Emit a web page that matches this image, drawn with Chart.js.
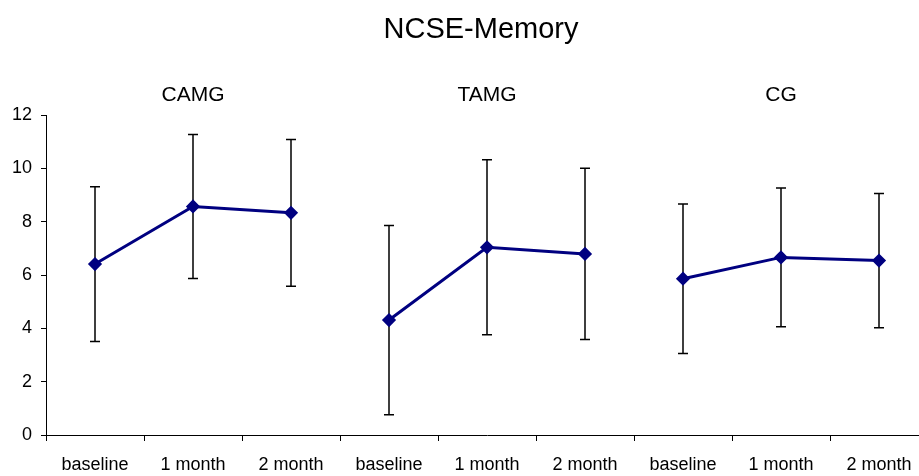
<!DOCTYPE html>
<html>
<head>
<meta charset="utf-8">
<script src="https://cdn.jsdelivr.net/npm/chart.js@4"></script>
<style>
  html, body { margin: 0; padding: 0; background: #fff; overflow: hidden; }
  /* the plot area runs ~9px past the right edge of the window, as in the original */
  #wrap { width: 928px; height: 476px; position: relative; }
</style>
</head>
<body>
<div id="wrap"><canvas id="chart"></canvas></div>
<script>
// Chart data
const chartTitle = 'NCSE-Memory';
const groups = ['CAMG', 'TAMG', 'CG'];
const timepoints = ['baseline', '1 month', '2 month'];
const camgMean = [6.41, 8.57, 8.33];
const camgSd = [2.9, 2.7, 2.75];
const tamgMean = [4.31, 7.04, 6.79];
const tamgSd = [3.55, 3.28, 3.21];
const cgMean = [5.86, 6.66, 6.54];
const cgSd = [2.8, 2.6, 2.52];
const yTicks = [0, 2, 4, 6, 8, 10, 12];

const FONT = "'Liberation Sans', Arial, sans-serif";
const NAVY = '#000080';

// 9 categories: each group repeats the three timepoints
const labels = groups.flatMap(() => timepoints);

// place a group's values in its own slot, nulls elsewhere so lines don't join
function slot(groupIndex, values) {
  const out = new Array(labels.length).fill(null);
  values.forEach((v, i) => { out[groupIndex * 3 + i] = v; });
  return out;
}

const means = [camgMean, tamgMean, cgMean];
const sds = [camgSd, tamgSd, cgSd];

const datasets = groups.map((g, gi) => ({
  label: g,
  data: slot(gi, means[gi]),
  sd: slot(gi, sds[gi]),
  borderColor: NAVY,
  backgroundColor: NAVY,
  borderWidth: 3,
  pointStyle: 'rectRot',
  pointRadius: 5,
  pointHoverRadius: 5,
  spanGaps: false,
  tension: 0
}));

// Error bars (mean ± sd), drawn under the markers
const errorBars = {
  id: 'errorBars',
  beforeDatasetsDraw(chart) {
    const { ctx, scales: { x, y } } = chart;
    ctx.save();
    ctx.strokeStyle = '#000';
    ctx.lineWidth = 1.5;
    chart.data.datasets.forEach(ds => {
      ds.data.forEach((m, i) => {
        if (m === null) return;
        const px = x.getPixelForValue(i);
        const top = y.getPixelForValue(m + ds.sd[i]);
        const bot = y.getPixelForValue(m - ds.sd[i]);
        ctx.beginPath();
        ctx.moveTo(px, top); ctx.lineTo(px, bot);
        ctx.moveTo(px - 5, top); ctx.lineTo(px + 5, top);
        ctx.moveTo(px - 5, bot); ctx.lineTo(px + 5, bot);
        ctx.stroke();
      });
    });
    ctx.restore();
  }
};

// Main title and group names above each block
const headings = {
  id: 'headings',
  afterDraw(chart) {
    const { ctx, chartArea, scales: { x } } = chart;
    ctx.save();
    ctx.fillStyle = '#000';
    ctx.textAlign = 'center';
    ctx.textBaseline = 'alphabetic';
    ctx.font = '29px ' + FONT;
    ctx.fillText(chartTitle, (chartArea.left + chartArea.right) / 2 - 6, 38);
    ctx.font = '21px ' + FONT;
    groups.forEach((g, gi) => {
      ctx.fillText(g, x.getPixelForValue(gi * 3 + 1), 101);
    });
    ctx.restore();
  }
};

new Chart(document.getElementById('chart'), {
  type: 'line',
  data: { labels, datasets },
  plugins: [errorBars, headings],
  options: {
    responsive: true,
    maintainAspectRatio: false,
    animation: false,
    layout: { autoPadding: false, padding: { top: 115, left: 0, right: 0, bottom: 0 } },
    plugins: {
      legend: { display: false },
      title: { display: false },
      tooltip: { enabled: false }
    },
    scales: {
      x: {
        offset: true,
        grid: {
          offset: true,
          drawOnChartArea: false,
          drawTicks: true,
          tickLength: 6,
          color: '#000'
        },
        border: { color: '#000', width: 1 },
        ticks: {
          color: '#000',
          font: { family: FONT, size: 18 },
          padding: 13,
          maxRotation: 0,
          autoSkip: false
        },
        afterFit(scale) {
          scale.height = 41;
          scale.paddingRight = 0;
          scale.paddingLeft = 0;
        }
      },
      y: {
        min: 0,
        max: 12,
        afterBuildTicks(scale) { scale.ticks = yTicks.map(v => ({ value: v })); },
        grid: {
          drawOnChartArea: false,
          drawTicks: true,
          tickLength: 5,
          color: '#000'
        },
        border: { color: '#000', width: 1 },
        ticks: {
          color: '#000',
          font: { family: FONT, size: 18 },
          padding: 9
        },
        afterFit(scale) { scale.width = 46; }
      }
    }
  }
});
</script>
</body>
</html>
